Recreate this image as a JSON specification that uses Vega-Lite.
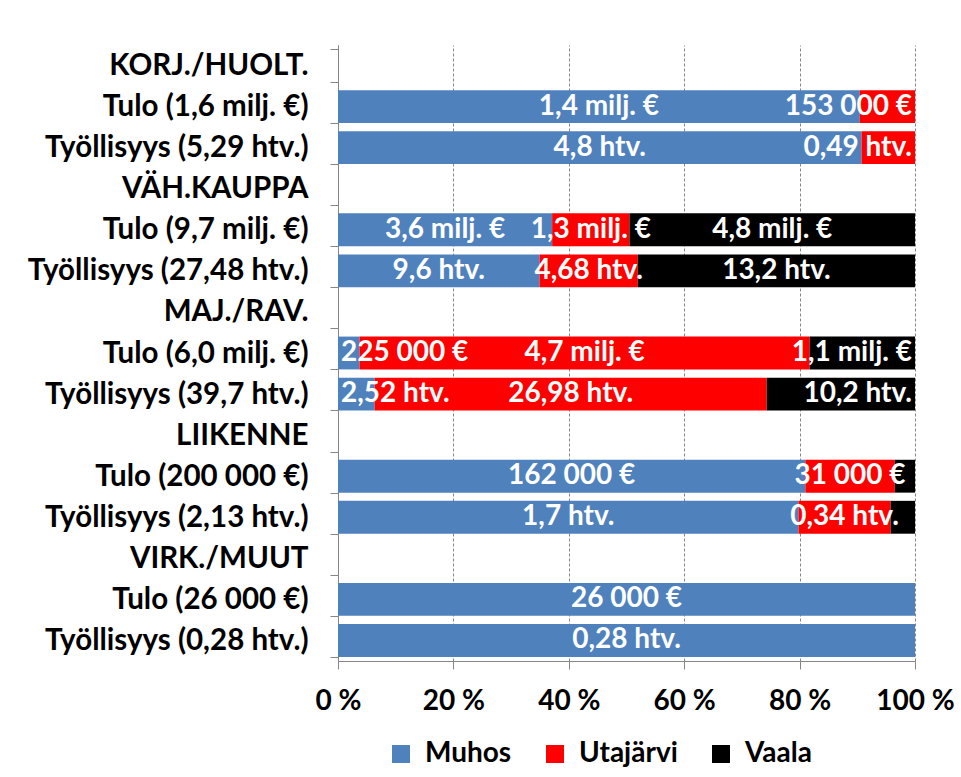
{
  "$schema": "https://vega.github.io/schema/vega-lite/v6.json",
  "width": 577,
  "height": 616,
  "autosize": {"type": "none"},
  "padding": {"left": 338, "top": 45, "right": 46, "bottom": 116},
  "background": "white",
  "config": {"font": "Lato", "view": {"stroke": null}},
  "data": {
    "values": [
      {"cat": "Tulo (1,6 milj. €)", "kunta": "Muhos", "val": 1447000, "label": "1,4 milj. €"},
      {"cat": "Tulo (1,6 milj. €)", "kunta": "Utajärvi", "val": 153000, "label": "153 000  €"},
      {"cat": "Työllisyys (5,29 htv.)", "kunta": "Muhos", "val": 4.8, "label": "4,8 htv."},
      {"cat": "Työllisyys (5,29 htv.)", "kunta": "Utajärvi", "val": 0.49, "label": "0,49 htv."},
      {"cat": "Tulo (9,7 milj. €)", "kunta": "Muhos", "val": 3600000, "label": "3,6 milj. €"},
      {"cat": "Tulo (9,7 milj. €)", "kunta": "Utajärvi", "val": 1300000, "label": "1,3 milj. €"},
      {"cat": "Tulo (9,7 milj. €)", "kunta": "Vaala", "val": 4800000, "label": "4,8 milj. €"},
      {"cat": "Työllisyys (27,48 htv.)", "kunta": "Muhos", "val": 9.6, "label": "9,6 htv."},
      {"cat": "Työllisyys (27,48 htv.)", "kunta": "Utajärvi", "val": 4.68, "label": "4,68 htv."},
      {"cat": "Työllisyys (27,48 htv.)", "kunta": "Vaala", "val": 13.2, "label": "13,2 htv."},
      {"cat": "Tulo (6,0 milj. €)", "kunta": "Muhos", "val": 225000, "label": "225 000 €"},
      {"cat": "Tulo (6,0 milj. €)", "kunta": "Utajärvi", "val": 4700000, "label": "4,7 milj. €"},
      {"cat": "Tulo (6,0 milj. €)", "kunta": "Vaala", "val": 1100000, "label": "1,1 milj. €"},
      {"cat": "Työllisyys (39,7 htv.)", "kunta": "Muhos", "val": 2.52, "label": "2,52 htv."},
      {"cat": "Työllisyys (39,7 htv.)", "kunta": "Utajärvi", "val": 26.98, "label": "26,98 htv."},
      {"cat": "Työllisyys (39,7 htv.)", "kunta": "Vaala", "val": 10.2, "label": "10,2 htv."},
      {"cat": "Tulo (200 000 €)", "kunta": "Muhos", "val": 162000, "label": "162 000 €"},
      {"cat": "Tulo (200 000 €)", "kunta": "Utajärvi", "val": 31000, "label": "31 000 €"},
      {"cat": "Tulo (200 000 €)", "kunta": "Vaala", "val": 7000, "label": ""},
      {"cat": "Työllisyys (2,13 htv.)", "kunta": "Muhos", "val": 1.7, "label": "1,7 htv."},
      {"cat": "Työllisyys (2,13 htv.)", "kunta": "Utajärvi", "val": 0.34, "label": "0,34 htv."},
      {"cat": "Työllisyys (2,13 htv.)", "kunta": "Vaala", "val": 0.09, "label": ""},
      {"cat": "Tulo (26 000 €)", "kunta": "Muhos", "val": 26000, "label": "26 000 €"},
      {"cat": "Työllisyys (0,28 htv.)", "kunta": "Muhos", "val": 0.28, "label": "0,28  htv."}
    ]
  },
  "encoding": {
    "y": {
      "field": "cat",
      "type": "nominal",
      "sort": null,
      "scale": {
        "domain": ["KORJ./HUOLT.", "Tulo (1,6 milj. €)", "Työllisyys (5,29 htv.)", "VÄH.KAUPPA", "Tulo (9,7 milj. €)", "Työllisyys (27,48 htv.)", "MAJ./RAV.", "Tulo (6,0 milj. €)", "Työllisyys (39,7 htv.)", "LIIKENNE", "Tulo (200 000 €)", "Työllisyys (2,13 htv.)", "VIRK./MUUT", "Tulo (26 000 €)", "Työllisyys (0,28 htv.)"],
        "paddingInner": 0.2,
        "paddingOuter": 0.1
      },
      "axis": {
        "title": null,
        "tickBand": "extent",
        "tickSize": 8,
        "tickColor": "#868686",
        "domainColor": "#868686",
        "labelFontSize": 29.5,
        "labelFontWeight": "bold",
        "labelColor": "black",
        "labelPadding": 22,
        "labelLimit": 0,
        "grid": false
      }
    },
    "order": {"field": "kunta", "type": "nominal", "sort": "ascending"}
  },
  "layer": [
    {
      "mark": {"type": "bar"},
      "encoding": {
        "x": {
          "field": "val",
          "type": "quantitative",
          "stack": "normalize",
          "scale": {"domain": [0, 1]},
          "axis": {
            "values": [0, 0.2, 0.4, 0.6, 0.8, 1],
            "labelExpr": "round(datum.value*100) + ' %'",
            "title": null,
            "grid": true,
            "gridDash": [3, 2],
            "gridColor": "#868686",
            "domainColor": "#868686",
            "tickColor": "#868686",
            "tickSize": 8,
            "labelFontSize": 28,
            "labelFontWeight": "bold",
            "labelColor": "black",
            "labelPadding": 18,
            "labelFlush": false,
            "labelOverlap": false
          }
        },
        "color": {
          "field": "kunta",
          "type": "nominal",
          "scale": {"domain": ["Muhos", "Utajärvi", "Vaala"], "range": ["#4F81BD", "#FF0000", "#000000"]},
          "legend": {
            "title": null,
            "orient": "none",
            "legendX": 49,
            "legendY": 695,
            "direction": "horizontal",
            "symbolType": "square",
            "symbolSize": 324,
            "symbolStrokeWidth": 0,
            "labelFontSize": 28,
            "labelFontWeight": "bold",
            "labelColor": "black",
            "gridAlign": "each",
            "columnPadding": 29,
            "labelOffset": 10,
            "padding": 0
          }
        }
      }
    },
    {
      "mark": {"type": "text", "color": "white", "fontSize": 28, "fontWeight": "bold", "align": "center", "baseline": "middle"},
      "encoding": {
        "x": {"field": "val", "type": "quantitative", "stack": "normalize", "bandPosition": 0.5},
        "detail": {"field": "kunta", "type": "nominal"},
        "text": {
          "condition": {"test": "indexof(['225 000 €','2,52 htv.','153 000  €','0,49 htv.','1,1 milj. €','10,2 htv.'], datum.label) < 0", "field": "label"},
          "value": ""
        }
      }
    },
    {
      "mark": {"type": "text", "color": "white", "fontSize": 28, "fontWeight": "bold", "align": "left", "baseline": "middle", "dx": 3},
      "encoding": {
        "x": {"field": "val", "type": "quantitative", "stack": "normalize", "bandPosition": 0},
        "detail": {"field": "kunta", "type": "nominal"},
        "text": {
          "condition": {"test": "indexof(['225 000 €','2,52 htv.'], datum.label) >= 0", "field": "label"},
          "value": ""
        }
      }
    },
    {
      "mark": {"type": "text", "color": "white", "fontSize": 28, "fontWeight": "bold", "align": "right", "baseline": "middle", "dx": -3},
      "encoding": {
        "x": {"field": "val", "type": "quantitative", "stack": "normalize", "bandPosition": 1},
        "detail": {"field": "kunta", "type": "nominal"},
        "text": {
          "condition": {"test": "indexof(['153 000  €','0,49 htv.','1,1 milj. €','10,2 htv.'], datum.label) >= 0", "field": "label"},
          "value": ""
        }
      }
    }
  ]
}
